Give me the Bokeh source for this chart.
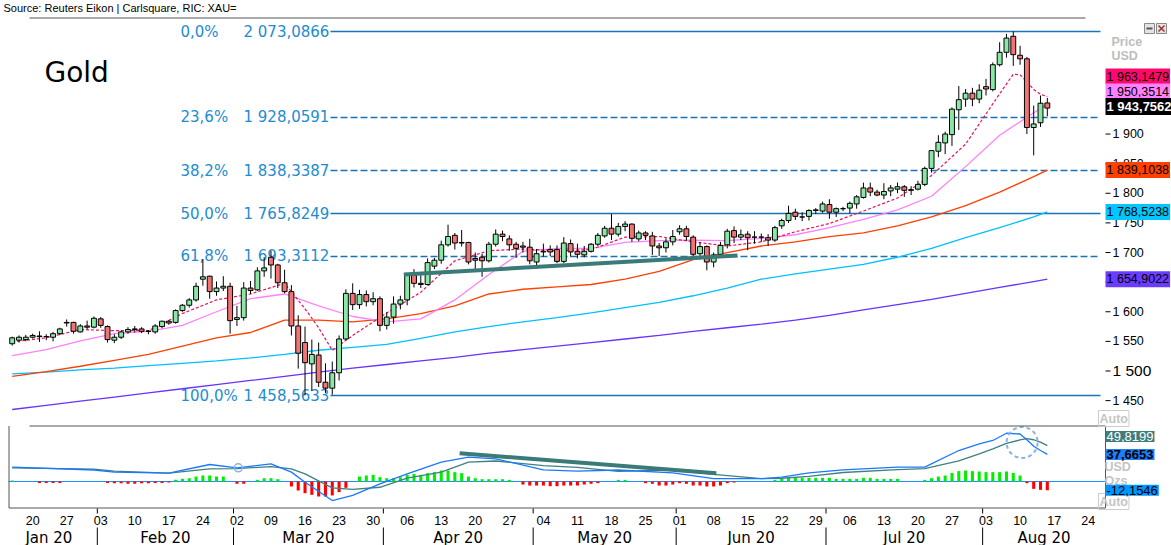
import numpy as np
import pandas as pd
from bokeh.plotting import figure
from bokeh.models import Range1d, ColumnDataSource, Label
from bokeh.core.properties import value
from bokeh.embed import file_html
from bokeh.resources import INLINE

# ---------------- data ----------------
dates = pd.bdate_range("2020-01-15", "2020-08-14")

opens = [1546,1552,1553,1557,1559,1558,1557,1563,1581,1582,1566,1576,1574,
         1588,1575,1552,1557,1566,1570,1571,1567,1566,1575,1584,1582,1602,1611,1620,1655,1660,1634,1640,1643,
         1587,1590,1640,1637,1669,1692,1679,1649,1634,1576,1548,1512,1527,1481,1471,1497,1554,1631,1612,1629,1617,1622,
         1577,1591,1613,1620,1662,1648,1646,1677,1687,1713,1729,1716,1717,1690,1692,1686,1714,1731,1723,1714,1711,1709,
         1684,1701,1705,1705,1685,1715,1702,1696,1702,1714,1728,1741,1731,1744,1748,1723,1733,1728,1711,1708,1718,
         1735,1740,1726,1698,1710,1684,1697,1713,1737,1726,1731,1726,1726,1725,1721,1745,1754,1768,1760,1761,1771,1770,
         1781,1768,1774,1775,1782,1793,1809,1802,1797,1804,1807,1811,1805,1807,1815,1842,1871,1885,1899,1941,1959,1969,1959,
         1980,1975,2017,2038,2065,2033,2027,1911,1919,1952.5]
highs = [1558,1560,1561,1563,1567,1562,1566,1573,1587,1583,1579,1585,1592,
         1591,1577,1562,1568,1574,1576,1574,1569,1579,1585,1586,1604,1613,1623,1649,1689,1661,1651,1660,1649,
         1610,1650,1652,1675,1692,1703,1681,1671,1645,1594,1575,1553,1548,1513,1516,1560,1638,1648,1637,1636,1633,1626,
         1599,1626,1627,1664,1672,1662,1690,1691,1720,1747,1733,1738,1718,1700,1698,1718,1739,1737,1729,1718,1718,1723,
         1706,1715,1712,1712,1726,1722,1715,1711,1716,1733,1745,1765,1750,1753,1749,1737,1736,1735,1716,1724,1738,
         1746,1745,1729,1718,1712,1700,1718,1740,1744,1739,1736,1736,1732,1731,1745,1757,1779,1774,1768,1773,1775,1786,
         1790,1776,1777,1786,1797,1818,1818,1806,1817,1814,1818,1814,1812,1821,1845,1873,1898,1904,1945,1981,1976,1978,1984,
         1993,2021,2055,2069,2073.09,2049,2030,1948,1965,1961]
lows = [1543,1548,1550,1555,1549,1552,1550,1561,1575,1563,1565,1570,1572,
        1573,1548,1547,1554,1563,1565,1564,1562,1563,1572,1578,1580,1600,1607,1617,1644,1622,1627,1635,1563,
        1576,1585,1630,1635,1659,1656,1640,1631,1560,1504,1459,1466,1473,1463,1460,1484,1552,1603,1605,1609,1611,1567,
        1570,1580,1604,1611,1641,1640,1645,1672,1681,1710,1705,1710,1680,1672,1659,1683,1710,1719,1703,1691,1700,1680,
        1673,1693,1694,1682,1682,1693,1690,1692,1700,1711,1725,1721,1727,1736,1718,1719,1721,1696,1694,1700,1712,
        1730,1720,1694,1688,1670,1675,1694,1707,1716,1721,1704,1715,1718,1711,1718,1740,1750,1755,1753,1754,1765,1767,
        1757,1760,1770,1766,1774,1791,1795,1795,1790,1795,1800,1794,1797,1805,1812,1835,1861,1866,1880,1907,1946,1947,1952,
        1965,1972,2014,2029,2015,2017,1900,1864,1912,1930]
closes = [1556,1557,1557,1560,1558,1558,1563,1571,1582,1567,1576,1574,1589,
          1577,1553,1557,1566,1570,1571,1567,1567,1576,1584,1581,1602,1611,1620,1643,1659,1634,1640,1643,1585,
          1590,1640,1636,1669,1674,1679,1649,1634,1576,1530,1514,1528,1481,1471,1497,1554,1631,1612,1629,1617,1622,1577,
          1591,1613,1620,1662,1648,1646,1683,1687,1713,1727,1716,1717,1684,1687,1686,1714,1731,1727,1713,1707,1709,1686,
          1698,1702,1701,1685,1716,1701,1697,1702,1714,1729,1741,1731,1744,1748,1724,1733,1729,1711,1708,1718,1727,
          1740,1727,1697,1710,1684,1696,1712,1736,1726,1730,1725,1726,1726,1721,1742,1754,1766,1761,1760,1771,1772,1782,
          1768,1774,1774,1783,1794,1809,1802,1797,1803,1809,1811,1805,1806,1815,1842,1872,1886,1900,1942,1958,1969,1959,1974,
          1976,2017,2038,2062,2034,2027,1911,1917,1952,1943.7562]

# moving averages, read at every 5th session
ma_idx = [0,5,10,15,20,25,30,35,40,45,50,55,60,65,70,75,80,85,90,95,100,105,110,115,120,125,130,135,140,145,150,152]
ma_pink = [1526,1536,1551,1563,1567,1577,1600,1622,1630,1610,1592,1583,1588,1620,1663,1702,1707,1707,1717,1720,
           1721,1720,1724,1730,1742,1756,1772,1795,1845,1898,1936,1950.35]
ma_red = [1491,1499,1508,1518,1528,1542,1556,1565,1586,1586,1583,1588,1597,1610,1630,1638,1642,1646,1655,1668,
          1688,1700,1711,1718,1727,1733,1745,1760,1779,1802,1828,1839.10]
ma_cyan = [1495,1498,1502,1505,1509,1513,1517,1522,1528,1535,1540,1545,1555,1566,1575,1583,1590,1598,1607,1616,
           1627,1640,1655,1664,1672,1680,1692,1707,1725,1742,1760,1768.52]
ma_purple = [1435,1442,1449,1456,1463,1470,1477,1484,1491,1498,1505,1511,1517,1523,1530,1536,1542,1548,1554,1560,
             1567,1573,1579,1586,1594,1603,1612,1621,1631,1641,1651,1654.90]
ma_short_idx = [0,5,10,15,20,25,30,35,40,43,45,47,50,55,60,65,70,75,80,85,90,95,100,105,110,115,120,125,130,135,
                140,145,147,148,149,150,151,152]
ma_short = [1549,1556,1570,1568,1568,1597,1620,1630,1648,1605,1573,1535,1560,1598,1633,1686,1703,1706,1703,1705,
            1726,1727,1718,1711,1718,1735,1749,1770,1792,1830,1883,1968,2001,2000,1988,1975,1967,1963.15]

# MACD panel
macd_idx = [0,12,15,23,29,33,38,41,43,47,50,54,58,63,67,71,78,83,89,97,103,110,113,117,122,130,134,139,142,144,146,148,149,150,151,152]
macd_line = [20,16,13,11.6,23.6,19,24.5,13,-1,-26.4,-19.4,-3.2,10.6,26.9,33.8,31.5,16.2,14.4,16,12,4,4,6,12,16.2,19.9,
             20,43,52.3,57,67,66,58,49,43,37.6653]
macd_signal = [19,17.1,14.4,11.6,17.6,18,20.8,17.6,10.6,-8.8,-11,-8,4.6,13,27,28.5,22,19.5,14,16,10,4,4.5,7,12.5,16.5,
               18,28.6,38.4,45.4,53,57.7,59.5,58,54.6,49.8199]
macd_hist = ([1.5] + [0]*3 + [-2]*4 + [0]*6 +
             [-2,-2.5,-2.5,-3,-3,-2.5,-2.5,-2,-2,-1.5] +
             [2.3,3.7,4.6,6.9,8.3,8.3,6.9,6.9] + [0] + [-3.2,-3.2] + [0] + [2.3,4.6,4.6,3.2] + [0] +
             [-6.9,-12.5,-16.2,-18.5,-20.8,-20.8,-19.4,-14.8,-8.8] + [0] +
             [6.9,8.3,9.3,6,4.6,4.6,6,9.3,10.6,9.3,11.6,13,15.3,15.3,13,11.6,6.9,4.6,3.2,3.2,3.2,3.2,2.3] + [0] +
             [-4.2,-5.6,-5.6,-5.6,-6.5,-6.5,-5.6,-5.6,-5.6,-4.2,-3.2,-2.3] + [0,0] + [2.3,2.3] + [0,0] +
             [-2.3,-3.2,-5.6,-5.6,-4.2,-2.3,-3.2,-5.6,-5.6,-6.9,-6.9,-5.6,-2.3,-1.4] + [0]*5 +
             [2.3,3.7,5.1,5.1,5.1,5.1,5.1,5.1,5.1,3.7,3.7,3.7,3.7,5.1,5.1,3.7,3.7,3.7,3.7] + [0]*3 +
             [2.3,4.6,6.9,8.3,12,14.4,15.3,14.4,13.9,13,13,13,13.9,12,8.3] +
             [-2.3,-10.2,-11.6,-12.1546])

# Fibonacci retracement
fib_labels = ["0,0%", "23,6%", "38,2%", "50,0%", "61,8%", "100,0%"]
fib_values = [2073.0866, 1928.0591, 1838.3387, 1765.8249, 1693.3112, 1458.5633]
fib_styles = ["solid", "dashed", "dashed", "solid", "dashed", "solid"]

# drawn trend lines / marks
trend_price_idx = [57.5, 106.5]
trend_price_val = [1663.0, 1695.0]
trend_macd_idx = [65.7, 103.4]
trend_macd_val = [39.3, 11.5]
mark_idx = [148.3]
mark_val = [54.2]
small_mark_idx = [33.2]
small_mark_val = [19.0]

# axes
price_ticks = [1450, 1500, 1550, 1600, 1650, 1700, 1750, 1800, 1850, 1900]
price_tick_labels = ["1 450", "1 500", "1 550", "1 600", "1 650", "1 700", "1 750", "1 800", "1 850", "1 900"]
day_tick_labels = ["20","27","03","10","17","24","02","09","16","23","30","06","13","20","27","04","11","18","25",
                   "01","08","15","22","29","06","13","20","27","03","10","17","24"]
month_labels = ["Jan 20", "Feb 20", "Mar 20", "Apr 20", "May 20", "Jun 20", "Jul 20", "Aug 20"]

last_values = [1963.1479, 1950.3514, 1943.7562, 1839.1038, 1768.5238, 1654.9022]
macd_last_values = [49.8199, 37.6653, -12.1546]

# ---------------- layout helpers ----------------
W, H = 1171, 545
PX0, DX = 11.7, 6.81          # pixel of first session, pixels per session
PPY = 0.5924                  # pixels per USD
FIB_TOP_PX = 31.0
MACD_ZERO_PX, MPY = 481.0, 0.72
AXIS_PX = 1105                # x pixel of the price scale

def xi(px):
    return (px - PX0) / DX

def yp(py):
    return fib_values[0] + (FIB_TOP_PX - py) / PPY

def ym(py):
    return (MACD_ZERO_PX - py) / MPY

def fmt(v):
    return f"{v:,.4f}".replace(",", " ").replace(".", ",")

p = figure(frame_width=W, frame_height=H,
           x_range=Range1d(xi(0), xi(W)), y_range=Range1d(yp(H), yp(0)),
           output_backend="svg", toolbar_location=None,
           x_axis_location=None, y_axis_location=None,
           min_border_left=0, min_border_top=0, min_border_right=0, min_border_bottom=0,
           outline_line_color=None, background_fill_color="white", border_fill_color="white")
p.grid.visible = False
p.extra_y_ranges = {"macd": Range1d(ym(H), ym(0))}

FONT = "DejaVu Sans"
SMALL = "Liberation Sans"
FIB_TEXT = "#1e8cd0"
FIB_LINE = "#1a74b4"

# texts
p.text(x=[xi(3)], y=[yp(7)], text=["Source: Reuters Eikon | Carlsquare, RIC: XAU="],
       text_font=value(SMALL), text_font_size="11px", text_baseline="middle", text_color="black")
p.text(x=[xi(44)], y=[yp(72)], text=["Gold"], text_font=value(FONT), text_font_size="28px",
       text_baseline="middle", text_color="black")
p.text(x=[xi(180)] * len(fib_values), y=fib_values, text=fib_labels, text_font=value(FONT),
       text_font_size="15px", text_baseline="middle", text_color=FIB_TEXT)
p.text(x=[xi(243)] * len(fib_values), y=fib_values, text=[fmt(v) for v in fib_values], text_font=value(FONT),
       text_font_size="15px", text_baseline="middle", text_color=FIB_TEXT)

# fib lines
for v, s in zip(fib_values, fib_styles):
    p.line([xi(330), xi(1100)], [v, v], line_color=FIB_LINE, line_width=1.5,
           line_dash=("7 3" if s == "dashed" else "solid"))

# moving averages
p.line(ma_idx, ma_purple, line_color="#6633ff", line_width=1.3)
p.line(ma_idx, ma_cyan, line_color="#00c0ff", line_width=1.3)
p.line(ma_idx, ma_red, line_color="#ff4000", line_width=1.3)
p.line(ma_idx, ma_pink, line_color="#ff80ff", line_width=1.3)
p.line(ma_short_idx, ma_short, line_color="#f0105a", line_width=1.2, line_dash="3 2")

# candles
o = np.array(opens, float); c = np.array(closes, float)
src = ColumnDataSource(dict(
    x=np.arange(len(dates)), h=highs, l=lows,
    top=np.maximum(o, c), bot=np.minimum(o, c),
    fill=["#8ae8a6" if cc >= oo else "#f27474" for oo, cc in zip(o, c)]))
p.segment(x0="x", y0="l", x1="x", y1="h", source=src, line_color="black", line_width=1)
p.vbar(x="x", top="top", bottom="bot", width=0.72, fill_color="fill", line_color="black",
       line_width=1, source=src)

# support trend line
p.line(trend_price_idx, trend_price_val, line_color="#3a7a78", line_width=4)

# MACD panel
p.line([xi(8), xi(AXIS_PX)], [0, 0], y_range_name="macd", line_color="#1e8fff", line_width=1)
hsrc = ColumnDataSource(dict(x=np.arange(len(macd_hist)), top=macd_hist,
                             col=["#00ee00" if v >= 0 else "#ff0000" for v in macd_hist]))
p.vbar(x="x", top="top", bottom=0, width=0.45, fill_color="col", line_color=None,
       source=hsrc, y_range_name="macd")
p.line(macd_idx, macd_signal, y_range_name="macd", line_color="#3f8080", line_width=1.3)
p.line(macd_idx, macd_line, y_range_name="macd", line_color="#1a78ff", line_width=1.3)
p.line(trend_macd_idx, trend_macd_val, y_range_name="macd", line_color="#3a7a78", line_width=4)
p.circle(x=mark_idx, y=mark_val, radius=15.5, radius_units="screen", fill_color=None,
         line_color="#8ab4e6", line_width=2, line_dash="4 3", y_range_name="macd")
p.circle(x=small_mark_idx, y=small_mark_val, radius=4, radius_units="screen", fill_color=None,
         line_color="#8ab4e6", line_width=1.5, y_range_name="macd")

# panel borders
BORDER = "#555555"
p.line([xi(29), xi(1085)], [yp(17.5)] * 2, line_color=BORDER, line_width=1)
p.line([xi(29), xi(AXIS_PX)], [ym(425.5)] * 2, y_range_name="macd", line_color=BORDER, line_width=1)
p.line([xi(8.5)] * 2, [ym(425.5), ym(507.5)], y_range_name="macd", line_color=BORDER, line_width=1)
p.line([xi(AXIS_PX)] * 2, [ym(425.5), ym(507.5)], y_range_name="macd", line_color=BORDER, line_width=1)
p.line([xi(8.5), xi(AXIS_PX)], [ym(507.5)] * 2, y_range_name="macd", line_color=BORDER, line_width=1)

# window buttons of the price panel
p.rect(x=[xi(1149), xi(1161)], y=[yp(28)] * 2, width=10, height=10, width_units="screen", height_units="screen",
       fill_color="#e4e4e4", line_color="#8a8a8a")
p.segment(x0=[xi(1146)], x1=[xi(1152)], y0=[yp(28)], y1=[yp(28)], line_color="#555555", line_width=2)
p.segment(x0=[xi(1158), xi(1158)], x1=[xi(1164), xi(1164)], y0=[yp(25), yp(31)], y1=[yp(31), yp(25)],
          line_color="#a03030", line_width=1.5)

# price scale (ticks and labels at the right)
p.segment(x0=[xi(AXIS_PX)] * len(price_ticks), x1=[xi(AXIS_PX + 5)] * len(price_ticks),
          y0=price_ticks, y1=price_ticks, line_color="black", line_width=1)
tick_sizes = ["15.5px" if t == 1500 else "12.5px" for t in price_ticks]
p.text(x=[xi(AXIS_PX + 7)] * len(price_ticks), y=price_ticks, text=price_tick_labels,
       text_font=value(SMALL), text_font_size=tick_sizes, text_baseline="middle", text_color="black")

# date scale
axis_dates = pd.bdate_range("2020-01-15", "2020-08-31")
monday_pos = [i for i, d in enumerate(axis_dates)
              if d.weekday() == 0 and pd.Timestamp("2020-01-20") <= d <= pd.Timestamp("2020-08-24")]
month_first = [i for i in range(1, len(axis_dates)) if axis_dates[i].month != axis_dates[i - 1].month]
month_sep = [i - 0.5 for i in month_first]
bounds = [xi(0)] + month_sep + [xi(AXIS_PX)]
month_mid = [(bounds[k] + bounds[k + 1]) / 2 for k in range(len(bounds) - 1)]

p.text(x=monday_pos, y=[ym(520)] * len(monday_pos), text=day_tick_labels, y_range_name="macd",
       text_font=value(SMALL), text_font_size="12.5px", text_align="center", text_baseline="middle",
       text_color="black")
p.segment(x0=month_sep, x1=month_sep, y0=[ym(508)] * len(month_sep), y1=[ym(513)] * len(month_sep),
          y_range_name="macd", line_color="black", line_width=1)
p.segment(x0=month_sep, x1=month_sep, y0=[ym(527)] * len(month_sep), y1=[ym(545)] * len(month_sep),
          y_range_name="macd", line_color="black", line_width=1)
p.text(x=month_mid, y=[ym(537)] * len(month_mid), text=month_labels, y_range_name="macd",
       text_font=value(FONT), text_font_size="15px", text_align="center", text_baseline="middle",
       text_color="black")

# right side value tags and panel captions
def tag(text, y, bg, fg, bold=False, rng="default", px=AXIS_PX, border=None, size="12.5px"):
    lab = Label(x=xi(px), y=y, y_range_name=rng, text=text, text_font=SMALL, text_font_size=size,
                text_color=fg, text_font_style=("bold" if bold else "normal"), text_baseline="middle",
                background_fill_color=bg, border_line_color=border, padding=1)
    p.add_layout(lab)

tag("Price", yp(41), None, "#bdbdbd", bold=True, px=1110)
tag("USD", yp(55), None, "#bdbdbd", bold=True, px=1110)
tag("Auto", yp(418), None, "#c4c4c4", bold=True, px=1098, border="#cccccc")
tag("USD", ym(466), None, "#c4c4c4", bold=True, rng="macd", px=1103)
tag("Ozs", ym(480), None, "#c4c4c4", bold=True, rng="macd", px=1103)
tag("Auto", ym(501), None, "#c4c4c4", bold=True, rng="macd", px=1098, border="#cccccc")

tag(fmt(last_values[0]), yp(76), "#ff0a6c", "black")
tag(fmt(last_values[1]), yp(91), "#ff80ff", "black")
tag(fmt(last_values[2]), yp(106), "black", "white", bold=True, size="13px")
tag(fmt(last_values[3]), last_values[3], "#ff4000", "black")
tag(fmt(last_values[4]), last_values[4], "#00c8ff", "black")
tag(fmt(last_values[5]), last_values[5], "#6a3cff", "black")

tag(fmt(macd_last_values[0]), ym(436), "#3d7d7a", "white", rng="macd", size="13px")
tag(fmt(macd_last_values[1]), macd_last_values[1], "#1a80ff", "black", bold=True, rng="macd", size="13px")
tag(fmt(macd_last_values[2]), macd_last_values[2], "#0096ff", "black", rng="macd", size="13px")

open("out.html", "w").write(file_html(p, INLINE))
